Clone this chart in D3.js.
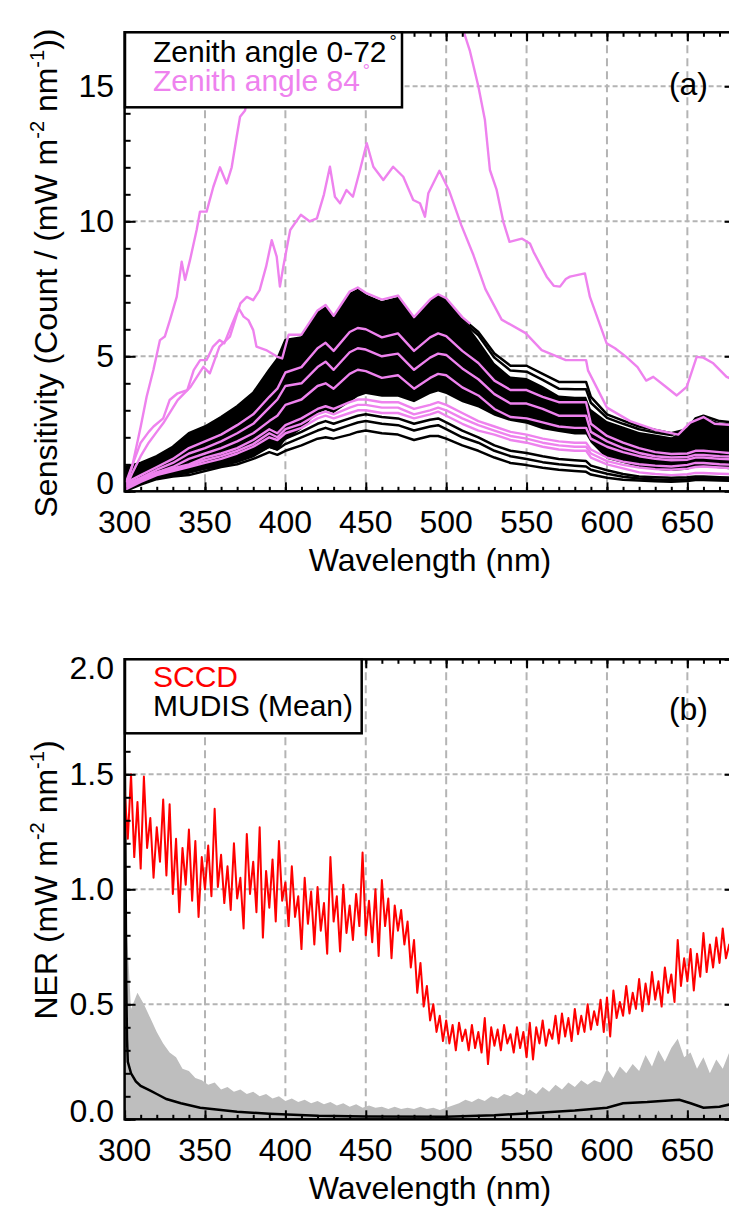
<!DOCTYPE html>
<html>
<head>
<meta charset="utf-8">
<script src="https://cdn.jsdelivr.net/npm/d3@7"></script>
<style>
  html, body { margin: 0; padding: 0; background: #fff; }
  svg text { font-family: "Liberation Sans", Arial, Helvetica, sans-serif; fill: #000; }
</style>
</head>
<body>
<svg id="chart" width="729" height="1207"></svg>
<script>
// ---------- panel (a): sensitivity ----------
// shared wavelength grid for the curves of the dense band
const wl = [300,310,320,330,340,350,360,370,380,390,395,400,410,420,425,430,440,445,450,460,470,480,490,495,500,510,520,530,540,550,560,570,580,587,590,600,610,620,630,640,650,655,660,670,680];

// zenith 0-72: upper black curve, the dense black band and the separate lower curves
const blackTop = [0.9,1.05,1.3,1.65,2.15,2.4,2.75,3.15,3.65,4.5,4.9,5.6,5.7,6.6,6.8,6.4,7.3,7.45,7.25,7.0,7.15,6.35,7.0,7.25,7.1,6.4,5.9,5.1,4.65,4.65,4.35,4.05,4.05,4.05,3.5,2.85,2.62,2.4,2.27,2.15,2.3,2.7,2.8,2.6,2.55];
const bandTop = [0.9,1.05,1.3,1.65,2.15,2.4,2.75,3.15,3.65,4.5,4.9,5.6,5.7,6.6,6.8,6.4,7.3,7.45,7.25,7.0,7.15,6.35,7.0,7.25,7.1,6.4,5.6,4.75,4.25,4.2,3.9,3.55,3.5,3.5,3.05,2.6,2.4,2.2,2.1,2.0,2.3,2.65,2.75,2.55,2.5];
const bandBottom = [0.05,0.3,0.45,0.55,0.65,0.8,0.9,1.05,1.25,1.6,1.5,1.9,2.3,2.9,3.0,2.9,3.3,3.5,3.6,3.5,3.5,3.3,3.6,3.7,3.6,3.3,3.1,2.8,2.6,2.5,2.3,2.2,2.1,2.1,1.8,1.2,1.05,0.9,0.8,0.75,0.8,0.9,0.9,0.85,0.8];
const black2Wl = [510,520,530,540,550,560,570,580,587,590,600,610,620,630,640,650];
const black2 = [6.3,5.78,4.95,4.47,4.43,4.13,3.8,3.78,3.78,3.28,2.72,2.5,2.3,2.18,2.08,2.3];
const blackLow1 = [0.0,0.25,0.45,0.55,0.6,0.75,0.9,1.0,1.2,1.45,1.35,1.5,1.7,1.95,2.0,1.95,2.1,2.2,2.25,2.15,2.1,1.9,2.05,2.05,1.95,1.7,1.5,1.25,1.05,0.97,0.87,0.8,0.75,0.72,0.62,0.5,0.43,0.4,0.37,0.35,0.38,0.42,0.42,0.4,0.38];
const blackLow2 = [0.05,0.3,0.5,0.6,0.7,0.85,1.0,1.15,1.35,1.65,1.55,1.75,2.0,2.25,2.35,2.25,2.45,2.55,2.6,2.5,2.45,2.25,2.4,2.45,2.3,2.0,1.8,1.5,1.3,1.2,1.08,1.0,0.95,0.92,0.8,0.65,0.54,0.47,0.44,0.42,0.45,0.48,0.48,0.46,0.44];
const blackLow3 = [0.05,0.35,0.55,0.7,0.8,0.95,1.1,1.3,1.5,1.85,1.75,1.95,2.2,2.5,2.6,2.5,2.7,2.8,2.85,2.75,2.7,2.5,2.65,2.7,2.55,2.25,2.0,1.7,1.5,1.42,1.3,1.2,1.15,1.12,0.95,0.78,0.64,0.55,0.52,0.5,0.52,0.55,0.55,0.52,0.5];

// zenith 84: curves inside the band
const pinkM1 = [0.3,0.6,0.9,1.2,1.6,1.85,2.1,2.45,2.85,3.5,3.8,4.4,4.6,5.3,5.5,5.2,5.9,6.05,6.0,5.7,5.85,5.2,5.7,5.85,5.75,5.2,4.75,4.1,3.75,3.75,3.5,3.3,3.3,3.3,2.5,2.05,1.8,1.6,1.45,1.38,1.4,1.5,1.5,1.45,1.4];
const pinkM2 = [0.25,0.5,0.8,1.05,1.4,1.6,1.85,2.15,2.5,3.1,3.4,3.9,4.0,4.6,4.8,4.5,5.15,5.3,5.25,5.0,5.1,4.5,4.95,5.1,5.05,4.55,4.15,3.6,3.25,3.25,3.05,2.8,2.8,2.8,2.2,1.85,1.6,1.42,1.3,1.25,1.27,1.35,1.35,1.3,1.28];
const pinkM3 = [0.2,0.45,0.7,0.9,1.2,1.4,1.6,1.85,2.15,2.6,2.8,3.2,3.4,3.9,4.0,3.8,4.35,4.5,4.45,4.2,4.3,3.8,4.2,4.35,4.3,3.85,3.55,3.05,2.75,2.7,2.55,2.4,2.35,2.35,1.95,1.65,1.45,1.3,1.2,1.15,1.17,1.25,1.25,1.2,1.18];
const pinkL1 = [0.1,0.45,0.7,0.85,1.0,1.25,1.4,1.6,1.9,2.3,2.15,2.45,2.7,3.05,3.15,3.05,3.3,3.4,3.4,3.3,3.3,3.05,3.2,3.3,3.2,2.9,2.6,2.4,2.2,2.1,1.95,1.85,1.8,1.8,1.55,1.25,1.1,1.0,0.95,0.92,0.98,1.05,1.05,1.0,0.98];
const pinkL2 = [0.1,0.4,0.65,0.8,0.95,1.15,1.3,1.5,1.75,2.15,2.0,2.3,2.5,2.85,2.95,2.85,3.1,3.2,3.2,3.1,3.1,2.85,3.0,3.1,3.0,2.7,2.45,2.25,2.05,1.95,1.8,1.7,1.65,1.65,1.4,1.12,0.98,0.88,0.82,0.8,0.84,0.9,0.92,0.88,0.85];
const pinkL3 = [0.05,0.35,0.6,0.75,0.9,1.05,1.2,1.4,1.65,2.0,1.9,2.15,2.35,2.7,2.8,2.7,2.9,3.0,3.0,2.9,2.9,2.7,2.85,2.95,2.8,2.5,2.25,2.1,1.9,1.8,1.65,1.55,1.5,1.5,1.25,1.0,0.85,0.7,0.64,0.6,0.63,0.68,0.68,0.65,0.63];

// zenith 84: the three high curves, each with its own wavelengths
const pinkP1Wl = [300,305,310,313.7,317.9,322,325,328.2,332.4,335.5,337.6,340.7,344.8,346.9,351,355.2,359.3,363.5,366.6,369.7,371.8,374.9,380,386,420,470,500,510.6,514.8,520,524.1,527.2,531.4,535.5,539.4,547,552.1,554.4,562.5,566.9,570.8,574.4,577,586.3,589.4,599.8,605,612,619,624.4,628.8,636,643.4,649.6,655.8,659.9,666.1,674.4,680];
const pinkP1 = [0.0,1.0,2.39,3.5,4.49,5.6,5.73,6.34,7.2,8.5,7.83,8.57,9.68,10.36,10.36,11.28,12.0,11.4,12.0,13.13,13.87,14.1,15.6,17.5,21,23,19.5,17.08,16.3,15.0,13.75,11.9,11.16,9.99,9.24,9.36,9.18,8.86,7.95,7.61,7.58,7.86,7.95,8.07,7.2,5.48,5.3,4.98,4.6,4.1,4.24,3.9,3.55,3.87,4.98,4.95,4.74,4.24,4.1];
const pinkP2Wl = [300,305,310,315,320,324,333,341,349,353,359,365.5,372,376,380,384,388,391.5,394.6,396.6,398.7,403,409.6,415,419.6,424,427.7,430.8,434,438,442,446.4,450.6,454.7,460.9,467,473.3,479.5,483.7,486.8,488.9,495.8,502,509.4,517,524.4,534.5,549.4,559.4,574.4,587,588.2,600,614.4,629.3,644.3,651.8,660,666.9,680];
const pinkP2 = [0.0,0.7,1.3,1.8,2.2,2.52,3.38,3.87,4.61,4.37,5.36,5.73,6.96,7.2,7.08,7.45,8.32,9.3,8.69,7.58,8.32,9.68,10.24,10.0,10.11,11.0,12.02,10.91,10.67,11.16,10.91,11.9,12.89,12.02,11.53,12.02,11.65,10.79,10.67,10.17,11.04,11.87,11.11,9.86,8.74,7.49,6.36,5.86,5.23,4.86,4.86,4.48,3.1,2.6,2.29,2.1,2.54,2.75,2.5,2.45];
const pinkP3Wl = [300,305,310,315,318,324,328,333,339,343,347,351,355,359,362,367,371,374,377,380,382,388,395,398,402,410,420,425,430,440,445,450,460,470,480,490,495,500,510,515];
const pinkP3 = [0.2,1.0,1.8,2.2,2.4,2.7,3.38,3.63,3.75,4.49,4.86,4.86,5.36,5.6,5.48,6.22,6.78,6.47,6.34,5.97,5.36,5.23,4.98,4.92,5.8,5.8,6.7,6.9,6.5,7.4,7.55,7.35,7.1,7.25,6.45,7.1,7.3,7.15,6.45,6.2];

const yTicksA = [0, 5, 10, 15];

// ---------- panel (b): noise equivalent radiance ----------
const sccdWl = d3.range(300, 681, 2);
const sccd = [
  1.43,1.22,1.50,1.14,1.38,1.09,1.49,1.18,1.31,1.05,
  1.27,1.12,1.39,1.06,1.37,0.98,1.22,0.90,1.18,1.02,
  1.26,0.95,1.21,0.88,1.14,1.00,1.19,0.97,1.35,1.01,
  1.15,0.94,1.10,0.91,1.20,0.96,1.05,0.83,1.24,0.98,
  1.12,0.90,1.27,0.79,1.08,0.92,1.13,0.86,1.21,0.95,
  1.03,0.84,1.10,0.88,0.97,0.74,1.05,0.85,0.99,0.76,
  1.01,0.82,0.94,0.72,1.14,0.86,0.97,0.73,1.02,0.81,
  0.93,0.78,0.98,0.84,1.16,0.80,0.95,0.77,1.00,0.71,
  1.04,0.84,0.96,0.70,0.93,0.82,0.91,0.76,0.86,0.66,
  0.78,0.55,0.68,0.49,0.58,0.43,0.50,0.38,0.45,0.34,
  0.43,0.33,0.41,0.30,0.42,0.34,0.39,0.30,0.41,0.31,
  0.38,0.29,0.44,0.24,0.40,0.32,0.39,0.30,0.41,0.33,
  0.37,0.29,0.40,0.31,0.38,0.27,0.42,0.26,0.40,0.33,
  0.43,0.32,0.39,0.35,0.45,0.33,0.46,0.36,0.44,0.34,
  0.48,0.37,0.45,0.38,0.50,0.39,0.47,0.41,0.52,0.38,
  0.53,0.36,0.56,0.44,0.51,0.45,0.58,0.46,0.55,0.48,
  0.61,0.47,0.59,0.50,0.64,0.52,0.60,0.49,0.66,0.55,
  0.63,0.51,0.78,0.58,0.70,0.60,0.74,0.56,0.72,0.62,
  0.81,0.64,0.76,0.66,0.79,0.68,0.83,0.70,0.76,0.74,
  0.84];
// upper envelope of the individual MUDIS spectra (grey)
const mudisWl = d3.range(300, 681, 4);
const mudisTop = [
  1.00,0.48,0.55,0.50,0.44,0.38,0.33,0.29,0.27,0.22,
  0.21,0.18,0.17,0.15,0.16,0.13,0.14,0.12,0.13,0.11,
  0.12,0.10,0.11,0.09,0.10,0.08,0.09,0.075,0.085,0.07,
  0.08,0.065,0.075,0.06,0.07,0.055,0.065,0.05,0.06,0.05,
  0.055,0.045,0.055,0.045,0.05,0.045,0.055,0.045,0.05,0.04,
  0.05,0.06,0.07,0.085,0.075,0.09,0.08,0.1,0.09,0.11,
  0.1,0.12,0.105,0.13,0.11,0.14,0.12,0.15,0.13,0.16,
  0.14,0.17,0.15,0.17,0.16,0.22,0.18,0.23,0.2,0.24,
  0.21,0.28,0.23,0.3,0.25,0.31,0.35,0.27,0.29,0.22,
  0.27,0.2,0.26,0.22,0.29,0.24];
const meanWl = [300,300.5,301,301.5,302,304,307,310,316,320,326,335,347,360,370,390,420,450,500,530,560,580,600,610,625,645,652,660,670,680];
const mudisMean = [1.72,1.2,0.6,0.35,0.25,0.2,0.165,0.145,0.125,0.11,0.088,0.07,0.05,0.04,0.033,0.024,0.015,0.012,0.011,0.018,0.03,0.038,0.05,0.07,0.075,0.085,0.07,0.05,0.055,0.07];

const yTicksB = [0, 0.5, 1.0, 1.5, 2.0];
const xTicks = [300, 350, 400, 450, 500, 550, 600, 650];

// ---------- drawing ----------
const PINK = "#ee82ee";
const svg = d3.select("#chart");
const x = d3.scaleLinear().domain([300, 680]).range([124.6, 735.6]);
const ya = d3.scaleLinear().domain([0, 17]).range([491.3, 32.3]);
const yb = d3.scaleLinear().domain([0, 2]).range([1119.3, 659.3]);

const zip = (ws, vs) => ws.map((w, i) => [w, vs[i]]);

function panel(id, y, yMinorStep, yGrid) {
  const [y0, y1] = y.range();
  const g = svg.append("g");
  svg.append("clipPath").attr("id", id)
    .append("rect").attr("x", x.range()[0]).attr("y", y1)
    .attr("width", x.range()[1] - x.range()[0]).attr("height", y0 - y1);

  g.selectAll(".vg").data(xTicks.slice(1)).join("line")
    .attr("x1", d => x(d)).attr("x2", d => x(d)).attr("y1", y1).attr("y2", y0)
    .attr("stroke", "#b4b4b4").attr("stroke-width", 2).attr("stroke-dasharray", "8,5");
  g.selectAll(".hg").data(yGrid).join("line")
    .attr("x1", x.range()[0]).attr("x2", x.range()[1]).attr("y1", d => y(d)).attr("y2", d => y(d))
    .attr("stroke", "#b4b4b4").attr("stroke-width", 2).attr("stroke-dasharray", "5,3");

  const plot = svg.append("g").attr("clip-path", `url(#${id})`);
  const line = d3.line().x(d => x(d[0])).y(d => y(d[1]));
  return {plot, line};
}

function frame(y, yMajor, yMinor, fmt) {
  const [y0, y1] = y.range();
  const [xl, xr] = x.range();
  const xMinor = d3.range(300, 681, 10);
  const axes = [
    [d3.axisBottom(x), `translate(0,${y0})`, xMinor, xTicks.concat([680]), -4.5, -9],
    [d3.axisTop(x), `translate(0,${y1})`, xMinor, xTicks, -4.5, -9],
    [d3.axisLeft(y), `translate(${xl},0)`, yMinor, yMajor, -6, -11],
    [d3.axisRight(y), `translate(${xr},0)`, yMinor, yMajor, -6, -11]
  ];
  axes.forEach(([ax, tr, minor, major, sMin, sMaj]) => {
    [[minor, sMin], [major, sMaj]].forEach(([vals, s]) => {
      const a = svg.append("g").attr("transform", tr)
        .call(ax.tickValues(vals).tickSize(s).tickSizeOuter(0).tickFormat(""));
      a.select(".domain").remove();
      a.selectAll("line").attr("stroke", "#000").attr("stroke-width", 2);
    });
  });
  svg.append("rect").attr("x", xl).attr("y", y1).attr("width", xr - xl).attr("height", y0 - y1)
    .attr("fill", "none").attr("stroke", "#000").attr("stroke-width", 2.5);

  // tick labels; the end labels sit a little inside, as in the original
  svg.append("g").selectAll("text").data(yMajor).join("text")
    .attr("x", 114).attr("text-anchor", "end").attr("font-size", 32)
    .attr("y", (d, i) => y(d) + 11 + (i === 0 ? -8 : 0) + (i === yMajor.length - 1 && y(d) - y1 < 2 ? 9 : 0))
    .text(fmt);
  svg.append("g").selectAll("text").data(xTicks).join("text")
    .attr("x", d => x(d)).attr("y", y0 + 42).attr("text-anchor", "middle").attr("font-size", 32)
    .text(d => d);
  svg.append("text").attr("x", 430).attr("y", y0 + 80).attr("text-anchor", "middle")
    .attr("font-size", 32).text("Wavelength (nm)");
}

function yTitle(cx, cy, parts) {
  const t = svg.append("text").attr("transform", `translate(${cx},${cy}) rotate(-90)`)
    .attr("text-anchor", "middle").attr("font-size", 32);
  let shift = 0;
  parts.forEach(([s, sup]) => {
    const d = sup ? -13 : 0;
    t.append("tspan").attr("dy", d - shift).attr("font-size", sup ? 20 : 32).text(s);
    shift = d;
  });
}

// ---- panel (a)
{
  const {plot, line} = panel("clipA", ya, 1, [5, 10, 15]);
  plot.append("path").datum(wl.map((w, i) => [w, bandBottom[i], bandTop[i]]))
    .attr("fill", "#000")
    .attr("d", d3.area().x(d => x(d[0])).y0(d => ya(d[1])).y1(d => ya(d[2])));
  const blacks = [zip(wl, blackLow1), zip(wl, blackLow2), zip(wl, blackLow3), zip(black2Wl, black2), zip(wl, blackTop)];
  plot.selectAll(".bk").data(blacks).join("path")
    .attr("d", line).attr("fill", "none").attr("stroke", "#000").attr("stroke-width", 2.5)
    .attr("stroke-linejoin", "round");
  const pinks = [zip(wl, pinkL3), zip(wl, pinkL2), zip(wl, pinkL1), zip(wl, pinkM3), zip(wl, pinkM2), zip(wl, pinkM1),
                 zip(pinkP3Wl, pinkP3), zip(pinkP2Wl, pinkP2), zip(pinkP1Wl, pinkP1)];
  plot.selectAll(".pk").data(pinks).join("path")
    .attr("d", line).attr("fill", "none").attr("stroke", PINK).attr("stroke-width", 2.4)
    .attr("stroke-linejoin", "round");

  frame(ya, yTicksA, d3.range(0, 18, 1), d => d);

  svg.append("rect").attr("x", 125).attr("y", 32.3).attr("width", 277).attr("height", 75)
    .attr("fill", "#fff").attr("stroke", "#000").attr("stroke-width", 2.5);
  const l1 = svg.append("text").attr("x", 153).attr("y", 61.7).attr("font-size", 30).text("Zenith angle 0-72");
  l1.append("tspan").attr("dx", 3).attr("dy", -14).attr("font-size", 18).text("°");
  const l2 = svg.append("text").attr("x", 153).attr("y", 90.7).attr("font-size", 30)
    .style("fill", PINK).text("Zenith angle 84");
  l2.append("tspan").attr("dx", 3).attr("dy", -14).attr("font-size", 18).text("°");

  svg.append("text").attr("x", 708).attr("y", 95).attr("text-anchor", "end").attr("font-size", 32).text("(a)");
  yTitle(57, 273, [["Sensitivity (Count / (mW m", 0], ["-2", 1], [" nm", 0], ["-1", 1], ["))", 0]]);
}

// ---- panel (b)
{
  const {plot, line} = panel("clipB", yb, 0.1, [0.5, 1.0, 1.5]);
  plot.append("path").datum(zip(mudisWl, mudisTop))
    .attr("fill", "#bebebe")
    .attr("d", d3.area().x(d => x(d[0])).y0(yb(0)).y1(d => yb(d[1])));
  plot.append("path").datum(zip(meanWl, mudisMean))
    .attr("d", line).attr("fill", "none").attr("stroke", "#000").attr("stroke-width", 2.5);
  plot.append("path").datum(zip(sccdWl, sccd))
    .attr("d", line).attr("fill", "none").attr("stroke", "#ff0000").attr("stroke-width", 2)
    .attr("stroke-linejoin", "round");

  frame(yb, yTicksB, d3.range(0, 2.01, 0.1), d => d.toFixed(1));

  svg.append("rect").attr("x", 125).attr("y", 659.3).attr("width", 236.7).attr("height", 74)
    .attr("fill", "#fff").attr("stroke", "#000").attr("stroke-width", 2.5);
  svg.append("text").attr("x", 153).attr("y", 686.7).attr("font-size", 30).style("fill", "#ff0000").text("SCCD");
  svg.append("text").attr("x", 153).attr("y", 716).attr("font-size", 30).text("MUDIS (Mean)");

  svg.append("text").attr("x", 708).attr("y", 720).attr("text-anchor", "end").attr("font-size", 32).text("(b)");
  yTitle(57, 880, [["NER (mW m", 0], ["-2", 1], [" nm", 0], ["-1", 1], [")", 0]]);
}
</script>
</body>
</html>
